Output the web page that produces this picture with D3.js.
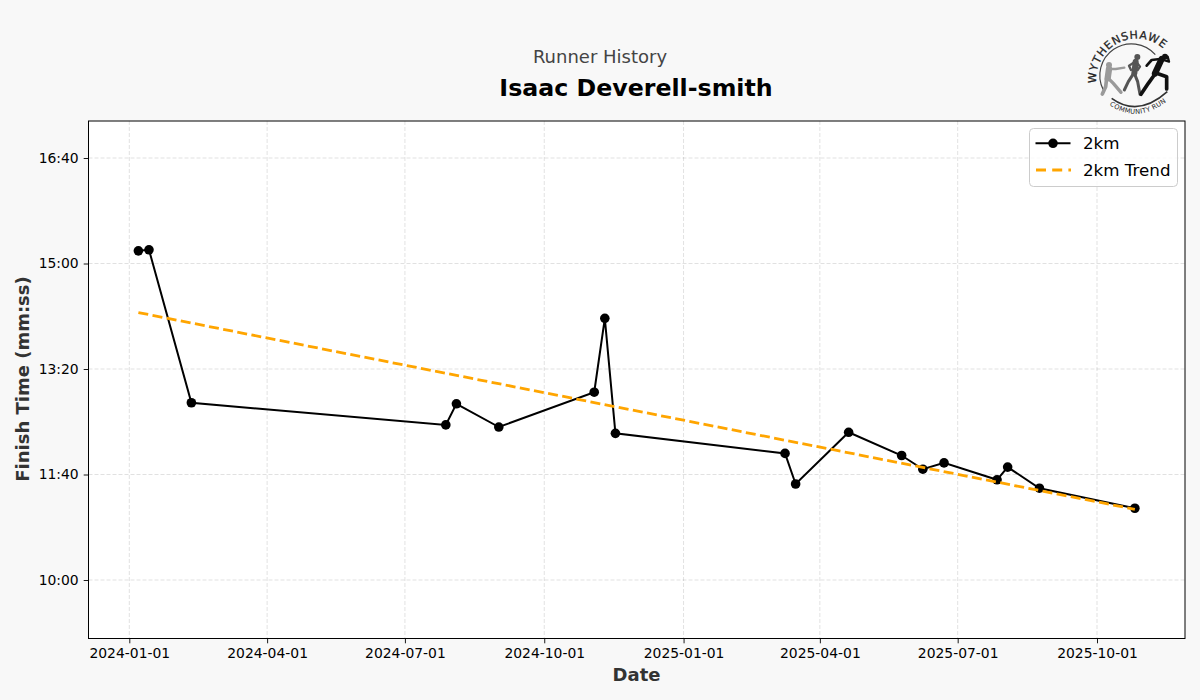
<!DOCTYPE html>
<html><head><meta charset="utf-8">
<script src="https://cdn.jsdelivr.net/npm/d3@7"></script>
<style>
html,body{margin:0;padding:0;background:#f8f8f8;}
svg{display:block;font-family:"DejaVu Sans",sans-serif;}
</style></head><body>
<svg id="c" width="1200" height="700"></svg>
<script>
const runDates = ["2024-01-07","2024-01-14","2024-02-11","2024-07-28","2024-08-04","2024-09-01","2024-11-03","2024-11-10","2024-11-17","2025-03-09","2025-03-16","2025-04-20","2025-05-25","2025-06-08","2025-06-22","2025-07-27","2025-08-03","2025-08-24","2025-10-26"];
const runSeconds = [912,913,768,747,767,745,778,848,739,720,691,740,718,705,711,695,707,687,668];
const trendDates = ["2024-01-07","2025-10-26"];
const trendSeconds = [853.5,667];
const xTickDates = ["2024-01-01","2024-04-01","2024-07-01","2024-10-01","2025-01-01","2025-04-01","2025-07-01","2025-10-01"];
const yTickSeconds = [600,700,800,900,1000];
const seriesNames = ["2km","2km Trend"];

const parse = d3.utcParse("%Y-%m-%d");
const L=88.5,R=1185,T=121,B=638.5;
const svg=d3.select("#c");
const day=864e5;
const pxPerDay=(1097-129.3)/((parse("2025-10-01")-parse("2024-01-01"))/day);
const x=d3.scaleUtc()
  .domain([new Date(+parse("2024-01-01")+(L-129.3)/pxPerDay*day),new Date(+parse("2024-01-01")+(R-129.3)/pxPerDay*day)])
  .range([L,R]);
const pxPerSec=(580-158)/400;
const y=d3.scaleLinear().domain([600-(B-580)/pxPerSec,600+(580-T)/pxPerSec]).range([B,T]);
const fmt=s=>{const m=Math.floor(s/60),r=Math.round(s-m*60);return m+":"+String(r).padStart(2,"0");};

svg.append("rect").attr("width",1200).attr("height",700).attr("fill","#f8f8f8");
svg.append("rect").attr("x",L).attr("y",T).attr("width",R-L).attr("height",B-T).attr("fill","#fff");

const grid=svg.append("g").attr("stroke","#000").attr("stroke-opacity",.15).attr("stroke-width",.8).attr("stroke-dasharray","4,2");
grid.selectAll(".gx").data(xTickDates).join("line").attr("x1",d=>x(parse(d))).attr("x2",d=>x(parse(d))).attr("y1",T).attr("y2",B);
grid.selectAll(".gy").data(yTickSeconds).join("line").attr("y1",d=>y(d)).attr("y2",d=>y(d)).attr("x1",L).attr("x2",R);

const xAxis=d3.axisBottom(x).tickValues(xTickDates.map(parse)).tickFormat(d3.utcFormat("%Y-%m-%d")).tickSize(4.8).tickPadding(5);
const yAxis=d3.axisLeft(y).tickValues(yTickSeconds).tickFormat(fmt).tickSize(4.8).tickPadding(5);
const gx=svg.append("g").attr("transform",`translate(0,${B})`).call(xAxis);
const gy=svg.append("g").attr("transform",`translate(${L},0)`).call(yAxis);
[gx,gy].forEach(g=>{g.select(".domain").remove();g.selectAll("text").attr("font-size",13.9).attr("font-family","DejaVu Sans").attr("fill","#000");g.selectAll("line").attr("stroke","#000").attr("stroke-width",.9);});

const pts=runDates.map((d,i)=>[x(parse(d)),y(runSeconds[i])]);
const line=d3.line();
svg.append("path").attr("d",line(pts)).attr("fill","none").attr("stroke","#000").attr("stroke-width",2);
svg.append("g").selectAll("circle").data(pts).join("circle").attr("cx",d=>d[0]).attr("cy",d=>d[1]).attr("r",4.8).attr("fill","#000");
const tp=trendDates.map((d,i)=>[x(parse(d)),y(trendSeconds[i])]);
svg.append("path").attr("d",line(tp)).attr("fill","none").attr("stroke","#ffa500").attr("stroke-width",2.8).attr("stroke-dasharray","10,4.4");

svg.append("rect").attr("x",L).attr("y",T).attr("width",R-L).attr("height",B-T).attr("fill","none").attr("stroke","#000").attr("stroke-width",1);

svg.append("text").attr("x",600).attr("y",63).attr("text-anchor","middle").attr("font-size",18).attr("fill","#444").text("Runner History");
svg.append("text").attr("x",636).attr("y",96).attr("text-anchor","middle").attr("font-size",23.7).attr("font-weight","bold").attr("fill","#000").text("Isaac Deverell-smith");
svg.append("text").attr("x",636.5).attr("y",681).attr("text-anchor","middle").attr("font-size",18).attr("font-weight","bold").attr("fill","#333").text("Date");
svg.append("text").attr("transform","translate(29,379) rotate(-90)").attr("text-anchor","middle").attr("font-size",18).attr("font-weight","bold").attr("fill","#333").text("Finish Time (mm:ss)");

// legend
const lg=svg.append("g");
lg.append("rect").attr("x",1029.5).attr("y",128.5).attr("width",148).attr("height",58).attr("rx",4).attr("fill","#fff").attr("fill-opacity",.8).attr("stroke","#ccc").attr("stroke-width",1);
lg.append("line").attr("x1",1035.5).attr("x2",1070.5).attr("y1",143.3).attr("y2",143.3).attr("stroke","#000").attr("stroke-width",2);
lg.append("circle").attr("cx",1053).attr("cy",143.3).attr("r",4.8).attr("fill","#000");
lg.append("line").attr("x1",1036).attr("x2",1071).attr("y1",170).attr("y2",170).attr("stroke","#ffa500").attr("stroke-width",2.8).attr("stroke-dasharray","10,6.2");
lg.append("text").attr("x",1083).attr("y",149).attr("font-size",16.7).attr("fill","#000").text(seriesNames[0]);
lg.append("text").attr("x",1083).attr("y",176).attr("font-size",16.7).attr("fill","#000").text(seriesNames[1]);

// logo: lettering and arcs, in crop units of the first logo view
const logo=svg.append("g").attr("transform","translate(1070,20) scale(0.3333)");
const defs=svg.append("defs");
defs.append("path").attr("id","arcTop").attr("d","M 79.5 190 A 121 121 0 0 1 288 94");
defs.append("path").attr("id","arcBot").attr("d","M 118 255 Q 205 315 295 240");
logo.append("text").attr("font-size",33).attr("fill","#222").attr("stroke","#222").attr("stroke-width",0.8)
  .append("textPath").attr("href","#arcTop").attr("textLength",290).attr("lengthAdjust","spacing").text("WYTHENSHAWE");
logo.append("text").attr("font-size",20).attr("fill","#222")
  .append("textPath").attr("href","#arcBot").attr("textLength",185).attr("lengthAdjust","spacing").text("COMMUNITY RUN");
logo.append("path").attr("d","M 100 210 A 95 95 0 0 1 256 104").attr("fill","none").attr("stroke","#444").attr("stroke-width",3.5);
logo.append("path").attr("d","M 125 235 Q 205 293 292 215").attr("fill","none").attr("stroke","#333").attr("stroke-width",5);
// runners, in crop units of the second logo view
const figs=svg.append("g").attr("transform","translate(1095,45) scale(0.3333)");
const runners=[
 ["#9a9a9a",[42,60,9],[["M42 72 L38 100",19],["M45 72 L62 72 L88 68",7],["M40 100 L55 115 L78 142",10],["M35 100 L32 125 L22 147",11]]],
 ["#555",[127,36,9],[["M122 50 L118 85",18],["M125 52 L135 65 L128 75",7],["M118 52 L102 62 L108 75",7],["M118 85 L128 110 L135 148",9],["M116 85 L100 110 L88 135",9]]],
 ["#111",[210,35,9],[["M200 42 L180 85",19],["M195 42 L170 45 L155 62",8],["M205 45 L222 50 L218 35",7],["M185 85 L215 95 L215 132",11],["M178 90 L160 115 L138 148",11]]]
];
runners.forEach(([c,h,parts])=>{
  figs.append("circle").attr("cx",h[0]).attr("cy",h[1]).attr("r",h[2]).attr("fill",c);
  parts.forEach(([d,w])=>figs.append("path").attr("d",d).attr("fill","none").attr("stroke",c).attr("stroke-width",w).attr("stroke-linecap","round").attr("stroke-linejoin","round"));
});
</script>
</body></html>
